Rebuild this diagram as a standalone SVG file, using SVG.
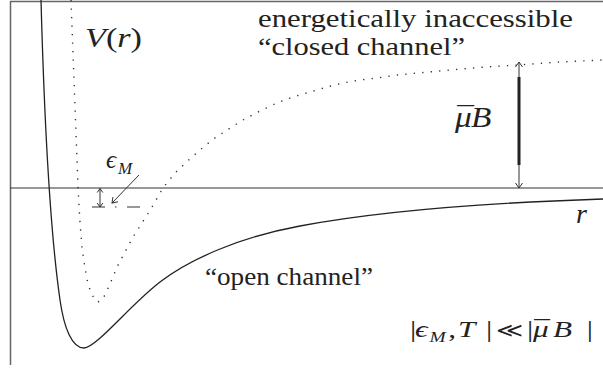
<svg xmlns="http://www.w3.org/2000/svg" width="603" height="374" viewBox="0 0 603 374">
<style>
.frame{fill:none;stroke:#666;stroke-width:1.5}
.axis{fill:none;stroke:#333;stroke-width:1.2}
.solid{fill:none;stroke:#222;stroke-width:1.3}
.dots{fill:none;stroke:#333;stroke-width:1.4;stroke-dasharray:1.3 7.2}
.arr{fill:none;stroke:#333;stroke-width:1}
text{font-family:'Liberation Serif','Times New Roman',serif;fill:#222}
.it{font-style:italic}
</style>
<defs>
<marker id="head" markerUnits="userSpaceOnUse" markerWidth="12" markerHeight="12" viewBox="-6 -6 12 12" refX="0" refY="0" orient="auto-start-reverse">
<path d="M-5,-3.5 L0,0 L-5,3.5" fill="none" stroke="#333" stroke-width="1"/>
</marker>
<marker id="headS" markerUnits="userSpaceOnUse" markerWidth="10" markerHeight="10" viewBox="-5 -5 10 10" refX="0" refY="0" orient="auto-start-reverse">
<path d="M-4,-2.8 L0,0 L-4,2.8" fill="none" stroke="#333" stroke-width="1"/>
</marker>
</defs>
<rect width="603" height="374" fill="#fff"/>
<g id="frame">
<path class="frame" d="M10.5,365 L10.5,1.5 L603,1.5"/>
<path class="axis" d="M10,188 L603,188"/>
</g>
<g id="open-channel-curve">
<path class="solid" d="M41,0 C44,110 50,230 60,300 C64,328 72,348 84,348 C96,348 130,305 160,282 C190,259 240,237 300,226 C380,211 480,203 603,199"/>
</g>
<g id="closed-channel-curve">
<polyline class="dots" points="71,0 72.5,40 74,80 75.5,120 77,160 78,188 80,222 82,248 85,268 88,284 92,295 97,302 101,301 105,295 110,284 117,267 125,252 133,237 142,223 152,207 163,188 175,173 192,157 200,150 212,140 227,130 243,120 260,111 277,103 293,97 310,92 327,87 343,83 360,80 377,78 397,75 418,73 450,70 485,67 518,65 560,62 603,60"/>
</g>
<g id="bound-level">
<path class="arr" d="M92,207 L140,207" stroke-dasharray="13 10 1.5 10.5 13"/>
</g>
<g id="connectors">
<line class="arr" x1="519" y1="62" x2="519" y2="188" marker-start="url(#head)" marker-end="url(#head)"/>
<line x1="519" y1="77" x2="519" y2="165" stroke="#222" stroke-width="3"/>
<line class="arr" x1="100" y1="188.5" x2="100" y2="207" marker-start="url(#headS)" marker-end="url(#headS)"/>
<line class="arr" x1="139" y1="175" x2="112" y2="203" marker-end="url(#head)"/>
</g>
<g id="label-V">
<text x="85" y="47" font-size="27" textLength="57" lengthAdjust="spacingAndGlyphs"><tspan class="it">V</tspan>(<tspan class="it">r</tspan>)</text>
</g>
<g id="label-closed">
<text x="258" y="27" font-size="26" textLength="315" lengthAdjust="spacingAndGlyphs">energetically inaccessible</text>
<text x="258" y="55" font-size="26" textLength="207" lengthAdjust="spacingAndGlyphs">“closed channel”</text>
</g>
<g id="label-open">
<text x="205" y="285" font-size="26" textLength="168" lengthAdjust="spacingAndGlyphs">“open channel”</text>
</g>
<g id="label-muB">
<text y="127" font-size="29" transform="translate(455,0) scale(1.15,1) translate(-455,0)"><tspan x="457">¯</tspan><tspan class="it" x="455">μ</tspan><tspan class="it" x="469">B</tspan></text>
</g>
<g id="label-r">
<text class="it" x="576" y="223" font-size="28">r</text>
</g>
<g id="label-eps">
<text x="106" y="168" font-size="25"><tspan class="it">ϵ</tspan><tspan class="it" x="118" y="174" font-size="17">M</tspan></text>
</g>
<g id="label-condition">
<text y="337" font-size="24" transform="translate(410,0) scale(1.3,1) translate(-410,0)"><tspan x="410">|</tspan><tspan class="it" x="413.8">ϵ</tspan><tspan class="it" x="425" y="342" font-size="15">M</tspan><tspan x="439.5" y="337">,</tspan><tspan class="it" x="447">T</tspan><tspan x="468.5">|</tspan><tspan x="476" font-size="20">≪</tspan><tspan x="500">|</tspan><tspan x="505.5">¯</tspan><tspan class="it" x="504.6">μ</tspan><tspan class="it" x="520">B</tspan><tspan x="546">|</tspan></text>
</g>
</svg>
